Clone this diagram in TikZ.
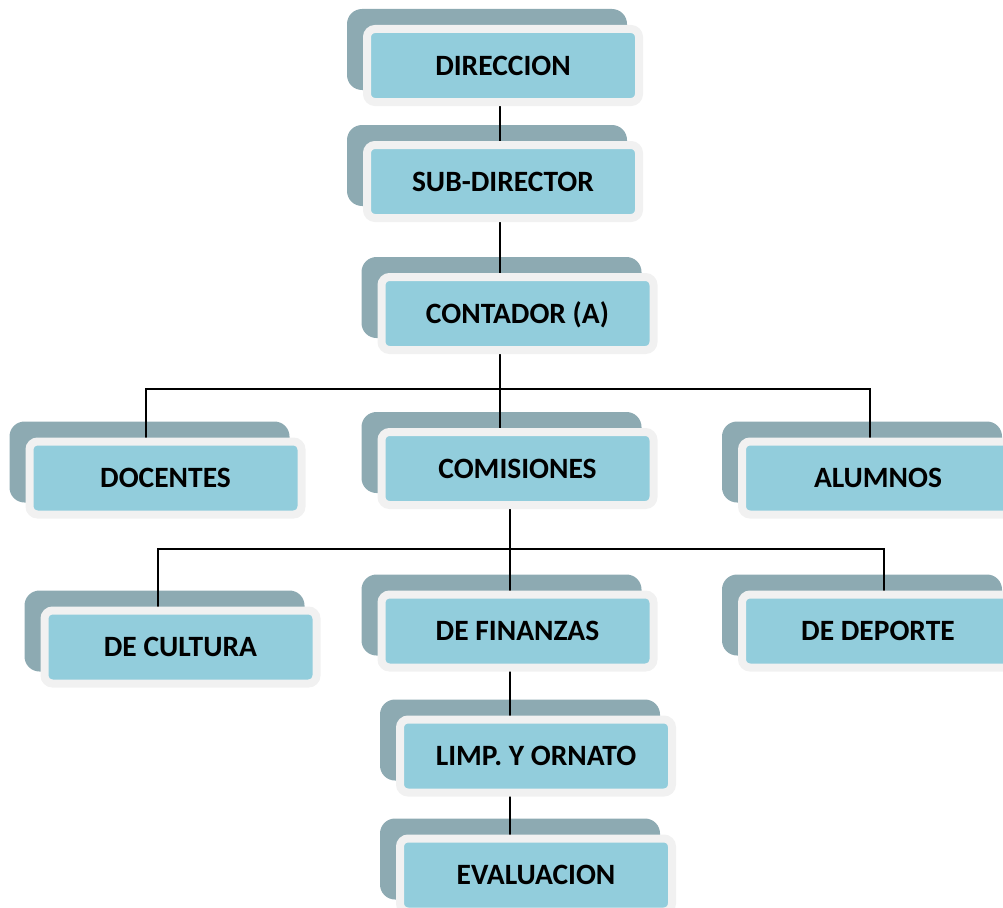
\documentclass[tikz,border=0pt]{standalone}
\usepackage{fontspec}
\setmainfont{Carlito}
\usetikzlibrary{backgrounds}
\definecolor{fondo}{RGB}{141,170,178}
\definecolor{celeste}{RGB}{146,205,220}
\definecolor{borde}{RGB}{241,241,241}
\tikzset{
  cargo/.style={draw=borde, fill=celeste, line width=8pt, rounded corners=8pt,
    minimum width=272pt, minimum height=73pt, inner sep=0pt,
    text height=19pt, text depth=0pt,
    font=\bfseries\fontsize{29.5}{31}\selectfont},
  sombra/.style={fill=fondo, rounded corners=15pt, minimum width=280pt,
    minimum height=81pt, inner sep=0pt},
  enlace/.style={line width=1.8pt}
}
\begin{document}
\begin{tikzpicture}[x=1pt, y=-1pt]
    \useasboundingbox (0,0) rectangle (1003,907);
    \node[cargo] (dir) at (503,65.5) {DIRECCION};
    \node[cargo] (sub) at (503,181.5) {SUB-DIRECTOR};
    \node[cargo] (cont) at (517.5,313.5) {CONTADOR (A)};
    \node[cargo] (doc) at (165.5,478) {DOCENTES};
    \node[cargo] (com) at (517.5,468.5) {COMISIONES};
    \node[cargo] (alu) at (878,478) {ALUMNOS};
    \node[cargo] (cul) at (180.5,647) {DE CULTURA};
    \node[cargo] (fin) at (517.5,631) {DE FINANZAS};
    \node[cargo] (dep) at (878,631) {DE DEPORTE};
    \node[cargo] (limp) at (536,756) {LIMP. Y ORNATO};
    \node[cargo] (eva) at (536,875) {EVALUACION};
    \begin{scope}[on background layer]
        \foreach \n in {dir,sub,cont,doc,com,alu,cul,fin,dep,limp,eva}
            \node[sombra] (\n-s) at ([shift={(-16,-16)}]\n.center) {};
        \coordinate (r1) at ([xshift=-17.5]cont.center |- 0,389);
        \coordinate (r2) at ([xshift=-7.5]com.center |- 0,549);
        \draw[enlace] ([xshift=-3]dir.center) -- ([xshift=-3]sub.center) -- ([xshift=-3]sub.center |- cont.center);
        \draw[enlace] ([xshift=-17.5]cont.center) -- ([xshift=-17.5]com.center);
        \draw[enlace] ([xshift=-19.5]doc.center) |- (r1) -| ([xshift=-8]alu.center);
        \draw[enlace] ([xshift=-7.5]com.center) -- ([xshift=-7.5]com.center |- eva.center);
        \draw[enlace] ([xshift=-22.5]cul.center) |- (r2) -| ([xshift=6]dep.center);
    \end{scope}
\end{tikzpicture}
\end{document}
